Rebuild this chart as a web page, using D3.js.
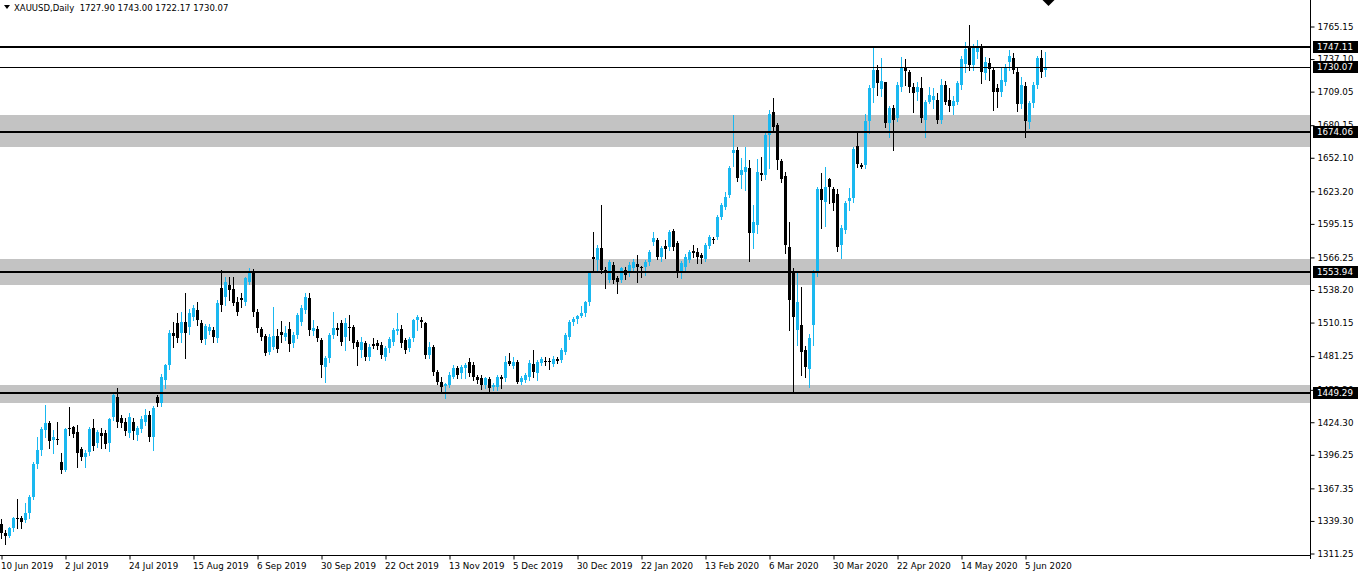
<!DOCTYPE html>
<html><head><meta charset="utf-8">
<script src="https://cdn.jsdelivr.net/npm/d3@7/dist/d3.min.js"></script>
<style>body{margin:0;background:#fff;overflow:hidden}text{font-family:"DejaVu Sans",sans-serif;}</style>
</head><body><svg id="c" width="1358" height="577"></svg>
<script>
const opens = [
1336.7,1329.2,1326.6,1332.9,1342.1,1342,1340.1,1346,1360.2,1388,
1400,1417.6,1423.4,1409,1410,1390.3,1383.2,1419.5,1419.9,1416.2,
1401,1394.1,1399,1419.1,1406,1414.7,1415.3,1406,1428.5,1446.3,
1427.7,1424.8,1414.7,1424.8,1413.3,1418.2,1424.8,1430.5,1411.9,1446.3,
1440.6,1460.7,1473.6,1500.9,1509.5,1500.9,1510.9,1506.6,1515.2,1520.9,
1509.5,1496.3,1503,1503.8,1496.6,1539.6,1532.5,1542.5,1538.8,1528.1,
1531.6,1528.1,1545.4,1552.5,1519.5,1504.3,1498.6,1485.1,1489.4,1498.6,
1502.3,1497.4,1505,1492.2,1499.4,1511,1521,1531,1503.2,1504.3,
1495.1,1472.2,1479.3,1499.4,1505.2,1509.5,1498,1506.6,1506.6,1493.7,
1486.5,1492.2,1480.8,1491.4,1492.2,1490.8,1480.8,1487.9,1493.7,1502.9,
1504.3,1495.1,1487.9,1496.6,1512.4,1512.4,1510.1,1482.2,1489.4,1467.9,
1459.2,1455.5,1456.4,1463.5,1470.7,1466.4,1470.7,1476.5,1473.6,1463.5,
1462.1,1456.4,1461.2,1455,1455,1462.9,1462.1,1477.1,1472.7,1476.5,
1459.2,1460.7,1463.5,1474.4,1466.4,1475.6,1477.3,1477.1,1474.4,1478.8,
1477.9,1485.1,1498,1510.9,1512.9,1516,1518,1528,1566.9,1564,
1574.1,1555.4,1546.8,1559.7,1548.2,1546.8,1555.4,1552.5,1556.8,1560.6,
1558.4,1558.3,1562.6,1579.8,1581.3,1566.9,1576.1,1575.5,1589.3,1578.9,
1552.5,1558.3,1564,1572.1,1571.2,1568.3,1564.6,1576.1,1581.8,1583.5,
1601.3,1610,1620,1656,1658.8,1637.2,1640.1,1643,1587,1594,
1638.6,1637.2,1672,1691.8,1680,1649.6,1636.4,1575.5,1553.9,1503.7,
1508.1,1486.5,1469.9,1508,1553.1,1624.9,1614.3,1633.5,1624.9,1620.9,
1577,1589.9,1615.1,1617.1,1662.2,1645.9,1646,1684,1712,1727.7,
1711,1717,1681.8,1694.7,1686,1713.3,1730,1726.2,1712.7,1709,
1711.9,1684.6,1700.4,1701.8,1701.8,1684.6,1714.8,1702,1697,1700.4,
1715,1733,1746.3,1732,1743.5,1747.8,1724.8,1734,1727.7,1711.9,
1709,1717.6,1735,1737.7,1726.2,1698,1714,1683.2,1699,1714.8,
1737.7,1727.9];
const highs = [
1341,1331.5,1334,1343,1357.9,1343.8,1355,1362,1390,1412,
1420,1439.1,1425,1417.6,1424.2,1397.5,1419.5,1437.1,1421,1421.9,
1403,1400,1420,1426.8,1418,1419,1418,1428,1449,1453.5,
1430.5,1428,1432,1428,1421,1430,1436,1434,1438,1447.8,
1466,1474.5,1504,1510.9,1518.1,1519.5,1535.3,1522,1525,1528.1,
1512,1509,1509,1506,1530,1555.4,1549,1549.7,1549.7,1532.4,
1535.3,1549.7,1556.8,1556,1522,1506,1500,1500,1523.8,1505,
1511.8,1507.2,1511,1502,1518,1525,1535.3,1535.3,1512.4,1507,
1497,1481,1501,1519.5,1509.5,1512.4,1513.8,1516.7,1508,1495,
1498,1494,1492,1496.6,1495,1493,1490,1498,1505.2,1518.1,
1508.1,1497,1498,1513.5,1516.6,1515.2,1511,1493.7,1491,1469,
1463.5,1458.5,1467.9,1473.6,1473,1474,1475,1479.3,1476,1465,
1465,1463.5,1463,1458,1465,1465,1481.1,1483.6,1480.2,1478,
1464,1467,1477.9,1486.5,1478,1480.8,1480.8,1479.9,1481,1480.8,
1488,1500.9,1512,1515.2,1517,1524,1529,1553,1588.4,1576.9,
1611.4,1558,1564,1562,1550,1558,1558,1562,1565,1568.3,
1559,1564,1573,1588.4,1583,1576,1581.3,1590,1591,1580,
1563,1569,1573,1576.9,1574.1,1570,1579,1586,1584.1,1603,
1613,1622.9,1645,1689,1661,1651.6,1661.6,1650,1611,1651,
1653,1675,1693,1703.3,1682,1651,1640,1597.1,1557,1553.1,
1541.1,1490,1500,1555,1627,1639.3,1643.8,1635,1627.2,1625,
1594,1615,1625.8,1661,1674.6,1648,1690,1715,1747.8,1732,
1738,1717.6,1697,1697.6,1717,1739.2,1736.9,1728,1716.2,1717.6,
1722,1702,1713.3,1712,1707.6,1720,1718,1712,1705,1718,
1740,1752,1766.4,1750,1753.5,1750,1739.2,1738,1730,1716,
1729.1,1733,1745,1742,1730,1722,1717,1701,1717,1740,
1744.9,1743];
const lows = [
1325,1319.4,1325.7,1331,1332.9,1332.9,1338,1342,1358,1385,
1396,1412,1401.8,1397.5,1405.6,1380.9,1382,1413.3,1412,1386,
1392,1386,1396,1400.4,1403,1401.8,1401.8,1399.8,1426,1420,
1420,1413,1412,1410,1409,1416,1422,1408,1400.4,1438.3,
1438,1454,1470,1489.4,1493.7,1493.7,1479.3,1500,1512,1508,
1493,1492,1500,1493.7,1493,1520,1525,1529.6,1525.3,1516.6,
1523.8,1525,1543,1516,1502.3,1495,1482,1483,1487,1485,
1493.7,1495,1486,1489.4,1497,1508,1518,1499.4,1499.4,1494,
1463.5,1459.2,1476,1497,1499.4,1491,1486.5,1495.1,1487.9,1473.6,
1480.8,1477.9,1478,1488,1487,1480,1478,1485,1491,1500,
1489.4,1483.6,1486,1494,1503.7,1506.6,1480,1480,1465,1457,
1450.6,1444.9,1455,1462,1462,1462.1,1462,1464,1461,1458,
1453,1453.5,1451,1452,1452,1453.5,1460,1473.6,1470.7,1458,
1457,1459,1460.7,1463.5,1460.7,1473.6,1473.6,1469.9,1473,1475.6,
1476,1483,1496,1508.1,1510,1515,1516,1525,1554,1555.4,
1553,1539.6,1545,1544,1535.3,1545,1548,1550,1555,1545.4,
1549.7,1551.1,1560,1576.9,1565,1563,1565.5,1573,1573,1549.7,
1548.2,1555,1562,1566.9,1561.2,1561.2,1563,1574,1578.4,1582,
1599,1608,1618,1645,1632,1625.7,1624.3,1563.3,1574,1587,
1633,1634,1643,1674,1642,1631,1570,1503.7,1449.9,1490.8,
1465,1463.5,1455,1490.8,1550,1591.3,1593.3,1612.8,1607.1,1572,
1565.5,1587,1607.1,1614,1644.4,1643,1643,1673,1700,1706.1,
1705,1678.9,1670.3,1658.8,1684,1710,1715,1709,1691.8,1701.8,
1683,1670.3,1699,1695,1682,1682,1698,1692,1690,1698,
1711,1726,1727.7,1728,1738,1716.2,1720,1719.1,1693.3,1696,
1705,1715,1728,1725,1692,1695,1670.3,1677.4,1696,1712,
1722,1722.17];
const closes = [
1328.6,1326.3,1332.9,1341.5,1340.9,1338.7,1346,1360.2,1388,1400,
1418.5,1423.4,1408.4,1411.9,1409.3,1383.2,1418.2,1418.5,1413.9,1398.1,
1394.7,1398.1,1418.2,1403.8,1416.2,1412.4,1405.6,1426.8,1447.8,1424.8,
1423.9,1417,1429.1,1417,1419,1426.8,1430.5,1411.9,1436.3,1440.6,
1463.5,1473.6,1500.9,1498.6,1496.6,1510.9,1500.9,1518.1,1522.4,1512.4,
1495.1,1507.2,1506.6,1497.4,1526.7,1525.3,1545.4,1538.2,1526.7,1519.5,
1529.6,1548.2,1552.5,1519.5,1505.2,1497.4,1484.2,1497.4,1498.6,1487.1,
1499.4,1500.9,1492,1499.4,1516.7,1522.4,1532.5,1503.7,1505.2,1496.6,
1473.6,1479.3,1499.4,1505.2,1503.7,1493.7,1509.5,1505.2,1492.2,1489.4,
1493.7,1480.8,1489.4,1490.3,1490,1482.2,1487.9,1495.7,1503.7,1504.3,
1492.2,1486.5,1495.7,1512.4,1515.2,1510.9,1482.2,1489.4,1467.9,1459.2,
1455,1457.5,1465,1470.7,1465,1472.2,1473.6,1466.4,1463.5,1460.7,
1456.4,1462.1,1453.5,1456.4,1463.5,1461.8,1476.5,1474.2,1476.5,1459.2,
1462.1,1465,1475,1467.9,1476.5,1478.5,1476.5,1476.2,1478.8,1477.3,
1486.5,1499.4,1510.9,1512.9,1516,1518,1528,1552.5,1564.9,1574.1,
1555.4,1552.5,1562.6,1546.8,1545.4,1556.8,1551.1,1559.7,1562.6,1557.7,
1558,1562.6,1571.2,1582.7,1566.9,1574.1,1573.2,1588.4,1575.5,1552.5,
1561.2,1566.9,1571.2,1569.8,1566.9,1565.5,1576.9,1584.1,1581.3,1601.3,
1611.4,1618.6,1643,1659,1634.4,1641.5,1644.4,1587,1597,1640,
1637.2,1672,1690,1678.9,1650,1633.5,1576.9,1529.6,1515.2,1528.1,
1485.1,1472.2,1496.6,1553.1,1624.9,1615.7,1627.2,1627.2,1612.8,1575.5,
1591.3,1612.8,1617.1,1659.3,1646.7,1644.4,1684,1712,1727.7,1716.2,
1718,1681.8,1694.7,1684.6,1714.8,1729.1,1727.1,1713.3,1708.2,1713.3,
1686,1700.4,1706.1,1705.6,1684.6,1714.8,1700.4,1697,1701,1716.2,
1737,1746,1732,1746.3,1747.8,1726.2,1734.9,1728.3,1709,1709,
1719.1,1729.1,1739.8,1727.7,1698,1714.8,1684,1699,1714.8,1737.7,
1726.2,1730.07];
const dateLabels = ["10 Jun 2019","2 Jul 2019","24 Jul 2019","15 Aug 2019","6 Sep 2019","30 Sep 2019","22 Oct 2019","13 Nov 2019","5 Dec 2019","30 Dec 2019","22 Jan 2020","13 Feb 2020","6 Mar 2020","30 Mar 2020","22 Apr 2020","14 May 2020","5 Jun 2020"];
const priceTicks = [1765.15,1737.10,1709.05,1680.15,1652.10,1623.20,1595.15,1566.25,1538.20,1510.15,1481.25,1452.20,1424.30,1396.25,1367.35,1339.30,1311.25];
const levels = [1747.11,1730.07,1674.06,1553.94,1449.29];
const zoneTops = [1688.9,1564.9,1456.4];
const zoneBottoms = [1661.6,1542.8,1441.2];
const titleText = "XAUUSD,Daily  1727.90 1743.00 1722.17 1730.07";

const W=1358,H=577,plotRight=1310,plotBottom=555;
const FS=8.7;
const svg=d3.select('#c');
svg.append('rect').attr('width',W).attr('height',H).attr('fill','#fff');
const n=closes.length, idx=d3.range(n);
const x=d3.scaleLinear().domain([0,1]).range([1.5,5.5]);
const y=d3.scaleLinear().domain([1311.25,1765.15]).range([553.5,26.5]);
const ry=v=>Math.round(y(v));

// zones
svg.append('g').selectAll('rect').data(d3.range(zoneTops.length)).join('rect')
  .attr('x',0).attr('width',plotRight)
  .attr('y',i=>ry(zoneTops[i])).attr('height',i=>ry(zoneBottoms[i])-ry(zoneTops[i]))
  .attr('fill','#c3c3c3');

// candles
const bull=i=>closes[i]>=opens[i];
const col=i=>bull(i)?'#1ab8f0':'#000';
const cg=svg.append('g');
cg.selectAll('line').data(idx).join('line')
  .attr('x1',i=>x(i)).attr('x2',i=>x(i))
  .attr('y1',i=>ry(highs[i])).attr('y2',i=>ry(lows[i])+1)
  .attr('stroke',col).attr('stroke-width',1).attr('shape-rendering','crispEdges');
cg.selectAll('rect').data(idx).join('rect')
  .attr('x',i=>x(i)-1.5).attr('width',3)
  .attr('y',i=>ry(Math.max(opens[i],closes[i])))
  .attr('height',i=>Math.max(1,ry(Math.min(opens[i],closes[i]))-ry(Math.max(opens[i],closes[i]))))
  .attr('fill',col).attr('shape-rendering','crispEdges');

// level lines
const isLast=d=>d===closes[n-1];
svg.append('g').selectAll('line').data(levels).join('line')
  .attr('x1',0).attr('x2',plotRight)
  .attr('y1',d=>isLast(d)?ry(d)+0.5:ry(d)).attr('y2',d=>isLast(d)?ry(d)+0.5:ry(d))
  .attr('stroke','#000').attr('stroke-width',d=>isLast(d)?1:2).attr('shape-rendering','crispEdges');

// right axis
const ay=svg.append('g').attr('transform',`translate(${plotRight+0.5},0)`)
  .call(d3.axisRight(y).tickValues(priceTicks).tickSize(4).tickSizeOuter(0).tickFormat(d3.format('.2f')));
ay.select('.domain').remove();
ay.selectAll('text').attr('font-size',FS).attr('fill','#000').attr('font-family','DejaVu Sans');
ay.selectAll('line').attr('stroke','#000');
svg.append('line').attr('x1',plotRight+0.5).attr('x2',plotRight+0.5).attr('y1',0).attr('y2',plotBottom+4).attr('stroke','#000');
svg.append('line').attr('x1',0).attr('x2',plotRight+1).attr('y1',plotBottom+0.5).attr('y2',plotBottom+0.5).attr('stroke','#000');

// bottom axis
const ax=svg.append('g').attr('transform',`translate(0,${plotBottom+0.5})`)
  .call(d3.axisBottom(x).tickValues(d3.range(0,n,16)).tickSize(4).tickSizeOuter(0).tickFormat(i=>dateLabels[i/16]));
ax.select('.domain').remove();
ax.selectAll('text').attr('text-anchor','start').attr('x',-1).attr('font-size',FS).attr('fill','#000').attr('font-family','DejaVu Sans');
ax.selectAll('line').attr('stroke','#000');

// highlighted level labels
const lg=svg.append('g').selectAll('g').data(levels).join('g').attr('transform',d=>`translate(${plotRight+3},${ry(d)})`);
lg.append('rect').attr('x',0).attr('y',-6).attr('width',45).attr('height',12).attr('fill','#000');
lg.append('text').attr('x',4).attr('dy','0.35em').attr('font-size',FS).attr('fill','#fff').text(d=>d.toFixed(2));

// title
svg.append('path').attr('d','M4,5 L10,5 L7,9 Z').attr('fill','#000');
svg.append('text').attr('x',14).attr('y',11).attr('font-size',8.5).attr('fill','#000').style('white-space','pre').text(titleText);

// chart shift marker
const sx=x(n-1)+3;
svg.append('path').attr('d',`M${sx-6},0 L${sx+6},0 L${sx},6 Z`).attr('fill','#000');
</script></body></html>
